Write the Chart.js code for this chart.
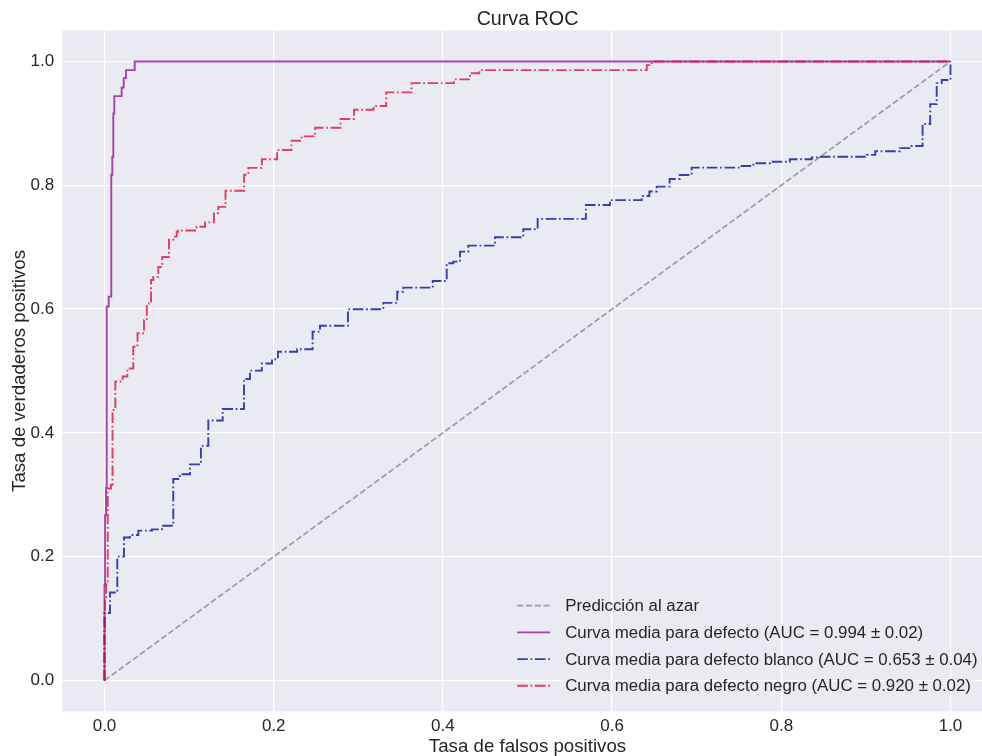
<!DOCTYPE html>
<html lang="es">
<head>
<meta charset="utf-8">
<title>Curva ROC</title>
<script src="https://cdn.jsdelivr.net/npm/chart.js@4/dist/chart.umd.min.js"></script>
<style>
  html, body { margin: 0; padding: 0; background: #ffffff; overflow: hidden; }
  #wrap { width: 982px; height: 756px; overflow: hidden; position: relative; }
  canvas { display: block; }
</style>
</head>
<body>
<div id="wrap"><canvas id="roc" width="1000" height="756"></canvas></div>
<script>
// Tick positions shared by both axes
const tickValues = [0, 0.2, 0.4, 0.6, 0.8, 1.0];

// Reference line (random classifier)
const fprAzar = [0, 1];
const tprAzar = [0, 1];

// Mean ROC curve, all defects (each point: FPR where TPR jumps, TPR after the jump)
const fprDefecto = [0, 0, 0.0006, 0.0018, 0.0026, 0.005, 0.008, 0.0092, 0.0104, 0.0116,
  0.0203, 0.0227, 0.0254, 0.0357, 1.0];
const tprDefecto = [0, 0.154, 0.267, 0.311, 0.604, 0.620, 0.817, 0.846, 0.916, 0.944,
  0.958, 0.973, 0.986, 1.0, 1.0];

// Mean ROC curve, white defects
const fprBlanco = [0, 0, 0.0065, 0.0151, 0.023, 0.030, 0.040, 0.056, 0.068, 0.0813,
  0.089, 0.101, 0.114, 0.1227, 0.1397, 0.1649, 0.172, 0.186, 0.198, 0.205,
  0.2276, 0.246, 0.2547, 0.2878, 0.3296, 0.346, 0.3532, 0.388, 0.4045, 0.4123,
  0.4202, 0.43, 0.4616, 0.495, 0.512, 0.569, 0.5975, 0.635, 0.644, 0.6527,
  0.668, 0.680, 0.694, 0.751, 0.767, 0.7866, 0.810, 0.836, 0.8437, 0.901,
  0.911, 0.940, 0.954, 0.967, 0.976, 0.9837, 0.9896, 1.0];
const tprBlanco = [0, 0.109, 0.142, 0.200, 0.231, 0.235, 0.242, 0.244, 0.250, 0.3255,
  0.333, 0.349, 0.379, 0.420, 0.4386, 0.487, 0.5005, 0.512, 0.519, 0.531,
  0.535, 0.5635, 0.573, 0.5997, 0.610, 0.628, 0.6346, 0.6454, 0.674, 0.6766,
  0.6927, 0.7024, 0.716, 0.729, 0.7456, 0.768, 0.776, 0.7827, 0.790, 0.7977,
  0.810, 0.8166, 0.8284, 0.831, 0.8355, 0.838, 0.842, 0.845, 0.846, 0.849,
  0.855, 0.860, 0.8635, 0.899, 0.931, 0.965, 0.970, 1.0];

// Mean ROC curve, black defects
const fprNegro = [0, 0, 0.0006, 0.002, 0.0038, 0.0077, 0.0095, 0.0128, 0.0215, 0.027,
  0.034, 0.039, 0.0467, 0.050, 0.055, 0.0577, 0.0636, 0.0683, 0.0762, 0.0813,
  0.0853, 0.0872, 0.109, 0.1188, 0.1294, 0.1345, 0.143, 0.165, 0.170, 0.186,
  0.204, 0.221, 0.233, 0.249, 0.279, 0.295, 0.318, 0.333, 0.363, 0.413,
  0.432, 0.443, 0.641, 0.647, 1.0];
const tprNegro = [0, 0.085, 0.130, 0.160, 0.310, 0.316, 0.437, 0.483, 0.491, 0.504,
  0.539, 0.561, 0.582, 0.609, 0.647, 0.652, 0.668, 0.684, 0.712, 0.717,
  0.725, 0.727, 0.733, 0.740, 0.755, 0.765, 0.791, 0.817, 0.828, 0.842,
  0.857, 0.872, 0.879, 0.893, 0.907, 0.922, 0.928, 0.950, 0.965, 0.971,
  0.981, 0.986, 0.994, 1.0, 1.0];

const seriesLabels = [
  'Predicción al azar',
  'Curva media para defecto (AUC = 0.994 \u00b1 0.02)',
  'Curva media para defecto blanco (AUC = 0.653 \u00b1 0.04)',
  'Curva media para defecto negro (AUC = 0.920 \u00b1 0.02)'
];

const FONT = '"Liberation Sans", Arial, Helvetica, sans-serif';
const TEXT = '#262626';
const toPoints = (xs, ys) => xs.map((x, i) => ({ x: x, y: ys[i] }));

// Grey plot face behind the grid
const plotFace = {
  id: 'plotFace',
  beforeDraw(chart) {
    const { ctx, chartArea: a } = chart;
    ctx.save();
    ctx.fillStyle = '#EAEAF2';
    ctx.fillRect(a.left, a.top, a.right - a.left, a.bottom - a.top);
    ctx.restore();
  }
};

// Legend in the lower right corner of the plot, without frame
const cornerLegend = {
  id: 'cornerLegend',
  afterDraw(chart) {
    const { ctx, chartArea: a } = chart;
    const x0 = a.left + 455;
    const y0 = a.bottom - 105.7;
    const row = 26.7;
    chart.data.datasets.forEach((ds, i) => {
      const y = y0 + i * row;
      ctx.save();
      ctx.strokeStyle = ds.borderColor;
      ctx.lineWidth = ds.borderWidth;
      ctx.setLineDash(ds.borderDash || []);
      ctx.beginPath();
      ctx.moveTo(x0, y);
      ctx.lineTo(x0 + 33, y);
      ctx.stroke();
      ctx.setLineDash([]);
      ctx.fillStyle = TEXT;
      ctx.font = '16.85px ' + FONT;
      ctx.textAlign = 'left';
      ctx.textBaseline = 'middle';
      ctx.fillText(ds.label, x0 + 48, y + 1);
      ctx.restore();
    });
  }
};

const fixedTicks = (scale) => { scale.ticks = tickValues.map(v => ({ value: v })); };
const gridStyle = { color: '#ffffff', lineWidth: 1.25, drawTicks: false };
const tickStyle = { color: TEXT, font: { family: FONT, size: 17 }, callback: v => v.toFixed(1) };

new Chart(document.getElementById('roc'), {
  type: 'line',
  data: {
    datasets: [
      {
        label: seriesLabels[0],
        data: toPoints(fprAzar, tprAzar),
        borderColor: 'rgba(128,128,140,0.75)',
        borderWidth: 1.7,
        borderDash: [6.1, 2.7],
        order: 3
      },
      {
        label: seriesLabels[1],
        data: toPoints(fprDefecto, tprDefecto),
        borderColor: 'rgba(140,0,145,0.72)',
        borderWidth: 1.9,
        stepped: 'before',
        order: 2
      },
      {
        label: seriesLabels[2],
        data: toPoints(fprBlanco, tprBlanco),
        borderColor: 'rgba(0,0,150,0.75)',
        borderWidth: 1.9,
        borderDash: [10.6, 2.7, 1.7, 2.7],
        stepped: 'before',
        order: 1
      },
      {
        label: seriesLabels[3],
        data: toPoints(fprNegro, tprNegro),
        borderColor: 'rgba(220,20,60,0.8)',
        borderWidth: 1.9,
        borderDash: [10.6, 2.7, 1.7, 2.7],
        stepped: 'before',
        order: 0
      }
    ]
  },
  options: {
    responsive: false,
    devicePixelRatio: 1,
    animation: false,
    events: [],
    layout: { padding: { left: 0, right: 7.2, top: 0, bottom: 0 } },
    elements: { point: { radius: 0 }, line: { tension: 0, fill: false } },
    plugins: { legend: { display: false }, tooltip: { enabled: false }, title: { display: false } },
    scales: {
      x: {
        type: 'linear',
        position: 'bottom',
        min: -0.05,
        max: 1.05,
        afterBuildTicks: fixedTicks,
        afterFit: (s) => { s.height = 44.6; },
        grid: gridStyle,
        border: { display: false },
        ticks: Object.assign({ padding: 5, maxRotation: 0 }, tickStyle),
        title: {
          display: true,
          text: 'Tasa de falsos positivos',
          color: TEXT,
          font: { family: FONT, size: 18.7, lineHeight: 1 },
          padding: { top: 0, bottom: 0.2 }
        }
      },
      xTop: {
        type: 'linear',
        position: 'top',
        min: -0.05,
        max: 1.05,
        afterFit: (s) => { s.height = 30.5; },
        grid: { display: false },
        border: { display: false },
        ticks: { display: false },
        title: {
          display: true,
          text: 'Curva ROC',
          color: TEXT,
          font: { family: FONT, size: 19.7, lineHeight: 1 },
          padding: { top: 9.6, bottom: 0 }
        }
      },
      y: {
        type: 'linear',
        position: 'left',
        min: -0.05,
        max: 1.05,
        afterBuildTicks: fixedTicks,
        afterFit: (s) => { s.width = 62.2; },
        grid: gridStyle,
        border: { display: false },
        ticks: Object.assign({ padding: 8 }, tickStyle),
        title: {
          display: true,
          text: 'Tasa de verdaderos positivos',
          color: TEXT,
          font: { family: FONT, size: 18.7, lineHeight: 1 },
          padding: { top: 10.6, bottom: 0 }
        }
      }
    }
  },
  plugins: [plotFace, cornerLegend]
});
</script>
</body>
</html>
